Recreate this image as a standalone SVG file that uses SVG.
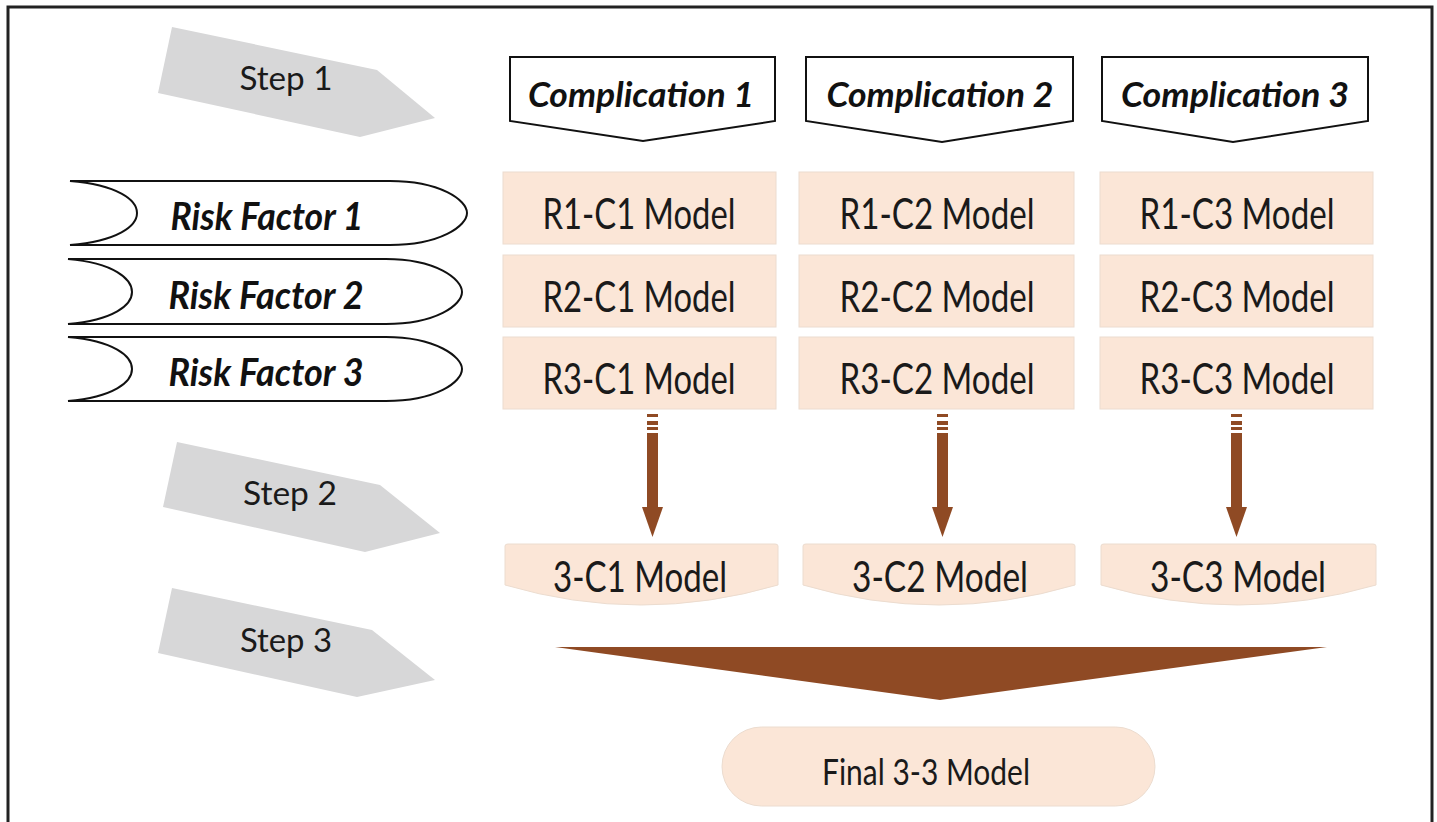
<svg xmlns="http://www.w3.org/2000/svg" width="1437" height="822" viewBox="0 0 1437 822">
<style>
.step{fill:#d7d7d8;stroke:none}
.steptxt{font-family:Lato,"Open Sans",sans-serif;font-size:32px;fill:#1a1a1a;text-anchor:middle}
.comp{fill:#fff;stroke:#111;stroke-width:2}
.comptxt{font-family:Lato,"Open Sans",sans-serif;font-size:35px;font-weight:bold;font-style:italic;fill:#111;text-anchor:middle}
.risk{fill:#fff;stroke:#111;stroke-width:2}
.risktxt{font-family:Lato,"Open Sans",sans-serif;font-size:38px;font-weight:bold;font-style:italic;fill:#111;text-anchor:middle}
.model{fill:#fbe6d7;stroke:#ecdccf;stroke-width:1}
.modeltxt{font-family:Lato,"Open Sans",sans-serif;font-size:42px;fill:#1a1a1a;text-anchor:middle}
.finaltxt{font-family:Lato,"Open Sans",sans-serif;font-size:36px;fill:#1a1a1a;text-anchor:middle}
.brown{fill:#8f4a24}
</style>
<rect x="0" y="0" width="1437" height="822" fill="#fff"/>
<path d="M8,830 V7 H1432 V830" fill="none" stroke="#222" stroke-width="3"/>

<g id="step1"><polygon class="step" points="172,27 377,70 435,118 360,137 158,93"/><text class="steptxt" x="286" y="90" textLength="93" lengthAdjust="spacingAndGlyphs">Step 1</text></g>
<g id="step2"><polygon class="step" points="177,442 380,485 440,533 365,552 163,507"/><text class="steptxt" x="290" y="505" textLength="94" lengthAdjust="spacingAndGlyphs">Step 2</text></g>
<g id="step3"><polygon class="step" points="172,588 372,630 435,680 357,697 158,653"/><text class="steptxt" x="286" y="652" textLength="92" lengthAdjust="spacingAndGlyphs">Step 3</text></g>

<g id="comp1"><polygon class="comp" points="510,57 775,57 775,121 643,141 510,121"/><text class="comptxt" x="641" y="107" textLength="226" lengthAdjust="spacingAndGlyphs">Complication 1</text></g>
<g id="comp2"><polygon class="comp" points="806,57 1073,57 1073,121 942,142 806,121"/><text class="comptxt" x="940" y="107" textLength="227" lengthAdjust="spacingAndGlyphs">Complication 2</text></g>
<g id="comp3"><polygon class="comp" points="1102,57 1368,57 1368,121 1233,142 1102,121"/><text class="comptxt" x="1235" y="107" textLength="228" lengthAdjust="spacingAndGlyphs">Complication 3</text></g>

<g id="risk1"><path class="risk" d="M70,181 L390,181 C440,181 467,200 467,213 C467,226 440,245 390,245 L70,245 C118,241 137,226 137,213 C137,200 118,185 70,181 Z"/><text class="risktxt" x="267" y="230" textLength="193" lengthAdjust="spacingAndGlyphs">Risk Factor 1</text></g>
<g id="risk2"><path class="risk" d="M68,259 L386,259 C436,259 462,279 462,292 C462,305 436,324 386,324 L68,324 C114,320 132,305 132,292 C132,279 114,263 68,259 Z"/><text class="risktxt" x="266" y="309" textLength="195" lengthAdjust="spacingAndGlyphs">Risk Factor 2</text></g>
<g id="risk3"><path class="risk" d="M68,337 L386,337 C436,337 462,357 462,369 C462,382 436,401 386,401 L68,401 C114,397 132,382 132,369 C132,356 114,341 68,337 Z"/><text class="risktxt" x="266" y="386" textLength="195" lengthAdjust="spacingAndGlyphs">Risk Factor 3</text></g>

<g id="r1c1"><rect class="model" x="503" y="172" width="273" height="72"/><text class="modeltxt" x="639" y="229" textLength="193" lengthAdjust="spacingAndGlyphs">R1-C1 Model</text></g>
<g id="r2c1"><rect class="model" x="503" y="255" width="273" height="72"/><text class="modeltxt" x="639" y="312" textLength="193" lengthAdjust="spacingAndGlyphs">R2-C1 Model</text></g>
<g id="r3c1"><rect class="model" x="503" y="337" width="273" height="72"/><text class="modeltxt" x="639" y="394" textLength="193" lengthAdjust="spacingAndGlyphs">R3-C1 Model</text></g>
<g id="r1c2"><rect class="model" x="799" y="172" width="275" height="72"/><text class="modeltxt" x="937" y="229" textLength="195" lengthAdjust="spacingAndGlyphs">R1-C2 Model</text></g>
<g id="r2c2"><rect class="model" x="799" y="255" width="275" height="72"/><text class="modeltxt" x="937" y="312" textLength="195" lengthAdjust="spacingAndGlyphs">R2-C2 Model</text></g>
<g id="r3c2"><rect class="model" x="799" y="337" width="275" height="72"/><text class="modeltxt" x="937" y="394" textLength="195" lengthAdjust="spacingAndGlyphs">R3-C2 Model</text></g>
<g id="r1c3"><rect class="model" x="1100" y="172" width="273" height="72"/><text class="modeltxt" x="1237" y="229" textLength="195" lengthAdjust="spacingAndGlyphs">R1-C3 Model</text></g>
<g id="r2c3"><rect class="model" x="1100" y="255" width="273" height="72"/><text class="modeltxt" x="1237" y="312" textLength="195" lengthAdjust="spacingAndGlyphs">R2-C3 Model</text></g>
<g id="r3c3"><rect class="model" x="1100" y="337" width="273" height="72"/><text class="modeltxt" x="1237" y="394" textLength="195" lengthAdjust="spacingAndGlyphs">R3-C3 Model</text></g>

<g id="m3c1"><path class="model" d="M505,546 Q505,544 508,544 H775 Q778,544 778,546 V585 Q641,625 505,585 Z"/><text class="modeltxt" x="640" y="592" textLength="174" lengthAdjust="spacingAndGlyphs">3-C1 Model</text></g>
<g id="m3c2"><path class="model" d="M803,546 Q803,544 806,544 H1072 Q1075,544 1075,546 V585 Q939,625 803,585 Z"/><text class="modeltxt" x="940" y="592" textLength="176" lengthAdjust="spacingAndGlyphs">3-C2 Model</text></g>
<g id="m3c3"><path class="model" d="M1101,546 Q1101,544 1104,544 H1373 Q1376,544 1376,546 V585 Q1238,625 1101,585 Z"/><text class="modeltxt" x="1238" y="592" textLength="176" lengthAdjust="spacingAndGlyphs">3-C3 Model</text></g>

<g id="final"><rect class="model" x="722" y="727" width="433" height="79" rx="39.5"/><text class="finaltxt" x="926" y="785" textLength="208" lengthAdjust="spacingAndGlyphs">Final 3-3 Model</text></g>

<g id="connectors">
  <g id="arrow1" class="brown">
    <rect x="647" y="414" width="11" height="3"/><rect x="647" y="421" width="11" height="4"/><rect x="647" y="427" width="11" height="3"/>
    <rect x="647" y="433" width="11" height="75"/><polygon points="642,507 663,507 652.5,537"/>
  </g>
  <g id="arrow2" class="brown">
    <rect x="937" y="414" width="11" height="3"/><rect x="937" y="421" width="11" height="4"/><rect x="937" y="427" width="11" height="3"/>
    <rect x="937" y="433" width="11" height="75"/><polygon points="932,507 953,507 942.5,537"/>
  </g>
  <g id="arrow3" class="brown">
    <rect x="1231" y="414" width="11" height="3"/><rect x="1231" y="421" width="11" height="4"/><rect x="1231" y="427" width="11" height="3"/>
    <rect x="1231" y="433" width="11" height="75"/><polygon points="1226,507 1247,507 1236.5,537"/>
  </g>
  <polygon id="merge" class="brown" points="555,647 1327,647 940,700"/>
</g>
</svg>
